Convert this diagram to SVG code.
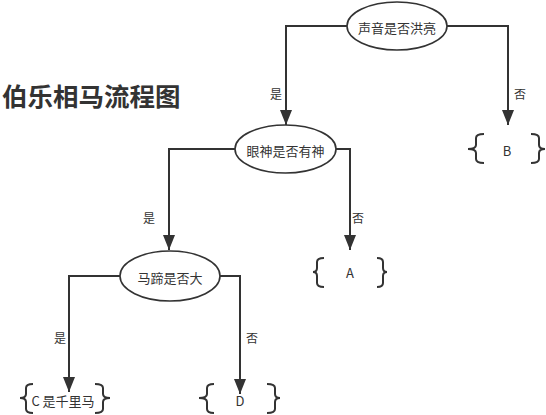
<svg xmlns="http://www.w3.org/2000/svg" width="546" height="415" viewBox="0 0 546 415">
<defs>
<style>
text{font-family:"Noto Sans CJK SC","Liberation Sans",sans-serif;fill:#333;}
.n{font-size:13px;text-anchor:middle;dominant-baseline:central;}
.l{font-size:12px;text-anchor:middle;dominant-baseline:central;}
.e{fill:#fff;stroke:#333;stroke-width:1.6;}
.c{fill:none;stroke:#333;stroke-width:2;marker-end:url(#ah);}
.b{fill:none;stroke:#333;stroke-width:2;}
</style>
<marker id="ah" markerUnits="userSpaceOnUse" markerWidth="16" markerHeight="12" viewBox="0 0 16 12" refX="15" refY="6" orient="auto">
<path d="M0,0 L15,6 L0,12 Z" fill="#333"/>
</marker>
</defs>
<rect width="546" height="415" fill="#fff"/>
<text x="2" y="94" style="font-size:25.5px;font-weight:bold;dominant-baseline:central;">伯乐相马流程图</text>
<g id="connectors">
<path class="c" d="M347,26 H286 V125"/>
<path class="c" d="M447,26 H508 V125"/>
<path class="c" d="M235,149 H169 V250"/>
<path class="c" d="M336,149 H350 V250"/>
<path class="c" d="M120,276 H69 V392"/>
<path class="c" d="M220,276 H240 V394"/>
<text class="l" x="276" y="93">是</text>
<text class="l" x="520" y="93">否</text>
<text class="l" x="149" y="217">是</text>
<text class="l" x="358" y="217">否</text>
<text class="l" x="60" y="337">是</text>
<text class="l" x="252" y="337">否</text>
</g>
<g id="q1"><ellipse class="e" cx="397" cy="26" rx="50" ry="24"/><text class="n" x="397" y="27">声音是否洪亮</text></g>
<g id="q2"><ellipse class="e" cx="285.5" cy="149" rx="50.5" ry="24"/><text class="n" x="285.5" y="150">眼神是否有神</text></g>
<g id="q3"><ellipse class="e" cx="170" cy="276" rx="50" ry="25"/><text class="n" x="170" y="277">马蹄是否大</text></g>
<g id="B">
<path class="b" d="M484,134 Q476,134 476,138 V145 Q476,149 468,149 Q476,149 476,153 V159 Q476,163 484,163"/>
<path class="b" d="M531,134 Q539,134 539,138 V145 Q539,149 545,149 Q539,149 539,153 V159 Q539,163 531,163"/>
<text class="n" x="507" y="150">B</text>
</g>
<g id="A">
<path class="b" d="M324,258 Q317,258 317,262 V268 Q317,272 313,272 Q317,272 317,276 V283 Q317,287 324,287"/>
<path class="b" d="M377,258 Q383,258 383,262 V268 Q383,272 387,272 Q383,272 383,276 V283 Q383,287 377,287"/>
<text class="n" x="350" y="272">A</text>
</g>
<g id="C">
<path class="b" d="M33,384 Q26,384 26,388 V394 Q26,398 20,398 Q26,398 26,402 V409 Q26,413 33,413"/>
<path class="b" d="M95,384 Q103,384 103,388 V394 Q103,398 110,398 Q103,398 103,402 V409 Q103,413 95,413"/>
<text class="n" x="63" y="400">C 是千里马</text>
</g>
<g id="D">
<path class="b" d="M214,384 Q207,384 207,388 V394 Q207,398 199,398 Q207,398 207,402 V409 Q207,413 214,413"/>
<path class="b" d="M267,384 Q275,384 275,388 V394 Q275,398 280,398 Q275,398 275,402 V409 Q275,413 267,413"/>
<text class="n" x="240" y="400">D</text>
</g>
</svg>
